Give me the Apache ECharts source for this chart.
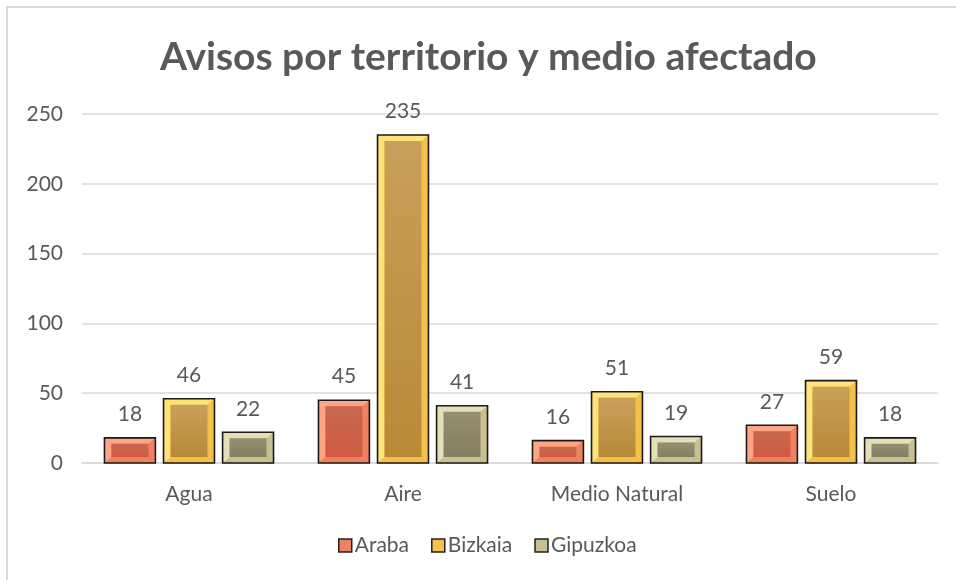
<!DOCTYPE html>
<html>
<head>
<meta charset="utf-8">
<script src="https://cdn.jsdelivr.net/npm/echarts@6/dist/echarts.min.js"></script>
<style>
    html, body { margin: 0; padding: 0; background: #fff; }
    #frame { position: absolute; left: 6px; top: 6px; width: 960px; height: 590px; border-left: 2px solid #d9d9d9; border-top: 2px solid #d9d9d9; }
    #chart { position: absolute; left: 0; top: 0; width: 956px; height: 580px; }
</style>
</head>
<body>
<div id="frame"></div>
<div id="chart"></div>
<script>
const categories = ['Agua', 'Aire', 'Medio Natural', 'Suelo']
const araba = [18, 45, 16, 27]
const bizkaia = [46, 235, 51, 59]
const gipuzkoa = [22, 41, 19, 18]
const yTicks = [0, 50, 100, 150, 200, 250]

// bevel colours per series: edge, highlight (left/top), inner face
const palette = [
    { edge: '#F0805F', light: '#FFA585', inner: ['#C86850', '#D05A40'] },
    { edge: '#F5C04A', light: '#FFE27A', inner: ['#C9A05A', '#B88A38'] },
    { edge: '#C9C092', light: '#E6DEB6', inner: ['#978F72', '#857D60'] }
]

const textColor = '#595959'
const font = 'Lato, "Open Sans", sans-serif'

function makeRender(idx) {
    return function (params, api) {
        const cat = api.value(0)
        const val = api.value(1)
        const catW = api.size([1, 0])[0]
        const barW = catW * 0.238
        const gap = catW * 0.038
        const base = api.coord([cat, 0])
        const top = api.coord([cat, val])
        const cx = base[0] + (idx - 1) * (barW + gap)
        const x0 = cx - barW / 2
        const x1 = cx + barW / 2
        const y0 = top[1]
        const y1 = base[1]
        const h = y1 - y0
        const c = palette[idx]
        const inset = Math.min(7, barW * 0.14)
        const insetY = Math.min(6, h * 0.3)
        const children = [
            { type: 'rect', shape: { x: x0, y: y0, width: barW, height: h }, style: { fill: c.edge } },
            // left + top highlight
            { type: 'polygon', shape: { points: [[x0, y1], [x0, y0], [x1, y0], [x1 - inset, y0 + insetY], [x0 + inset, y0 + insetY], [x0 + inset, y1 - insetY]] }, style: { fill: c.light } },
            {
                type: 'rect',
                shape: { x: x0 + inset, y: y0 + insetY, width: barW - 2 * inset, height: Math.max(0, h - 2 * insetY) },
                style: { fill: new echarts.graphic.LinearGradient(0, 0, 0, 1, [{ offset: 0, color: c.inner[0] }, { offset: 1, color: c.inner[1] }]) }
            },
            { type: 'rect', shape: { x: x0, y: y0, width: barW, height: h }, style: { fill: 'none', stroke: '#1a1a1a', lineWidth: 1.6 } },
            {
                type: 'text',
                style: { text: String(val), x: cx, y: y0 - 13, align: 'center', verticalAlign: 'bottom', fill: textColor, font: '21px ' + font }
            }
        ]
        return { type: 'group', children: children }
    }
}

const seriesData = [araba, bizkaia, gipuzkoa]
const names = ['Araba', 'Bizkaia', 'Gipuzkoa']

const chart = echarts.init(document.getElementById('chart'))
chart.setOption({
    animation: false,
    title: {
        text: 'Avisos por territorio y medio afectado',
        left: 155,
        top: 33,
        textStyle: { fontFamily: font, fontSize: 39, fontWeight: 'bold', color: textColor }
    },
    legend: {
        bottom: 19,
        left: 333,
        itemWidth: 13,
        itemHeight: 13,
        itemGap: 22,
        icon: 'rect',
        textStyle: { fontFamily: font, fontSize: 21, color: textColor, padding: [0, 0, 0, -2] },
        data: names.map((n, i) => ({ name: n, itemStyle: { color: palette[i].edge, borderColor: '#222', borderWidth: 1.5 } }))
    },
    grid: { left: 82, right: 18, top: 114, bottom: 117 },
    xAxis: {
        type: 'category',
        data: categories,
        axisTick: { show: false },
        axisLine: { lineStyle: { color: '#d9d9d9', width: 1.5 } },
        axisLabel: { fontFamily: font, fontSize: 21, color: textColor, margin: 21 }
    },
    yAxis: {
        type: 'value',
        min: yTicks[0],
        max: yTicks[yTicks.length - 1],
        interval: 50,
        axisLine: { show: false },
        axisTick: { show: false },
        splitLine: { lineStyle: { color: '#d9d9d9', width: 1.5 } },
        axisLabel: { fontFamily: font, fontSize: 21, color: textColor, margin: 19 }
    },
    series: seriesData.map((d, i) => ({
        name: names[i],
        type: 'custom',
        itemStyle: { color: palette[i].edge },
        renderItem: makeRender(i),
        encode: { x: 0, y: 1 },
        data: d.map((v, j) => [j, v])
    }))
})
</script>
</body>
</html>
